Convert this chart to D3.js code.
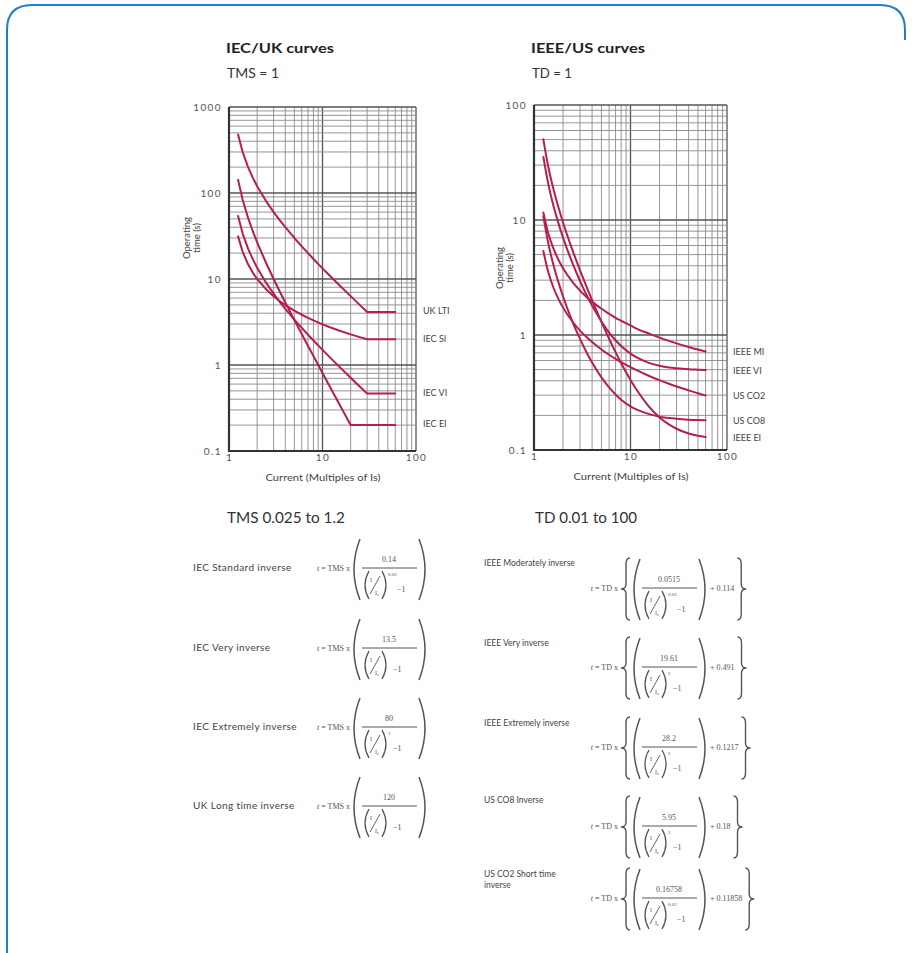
<!DOCTYPE html>
<html><head><meta charset="utf-8">
<script src="https://cdn.jsdelivr.net/npm/d3@7"></script>
<style>body{margin:0;background:#fff}svg{display:block}</style>
</head><body>
<svg id="c" width="912" height="953"></svg>
<script>
// ---------- DATA ----------
const currentMultiples = [1.25,1.4,1.6,1.8,2,2.5,3,3.5,4,5,6,7,8,10,12,15,20,25,30,40,50,60];

// IEC / UK curves (TMS = 1), operating time in s
const ukLTI = [480,300,200,150,120,80,60,48,40,30,24,20,17.1,13.3,10.9,8.57,6.32,5.0,4.14,4.14,4.14,4.14];
const iecSI = [31.3,20.7,14.8,11.8,10.0,7.57,6.30,5.52,4.98,4.28,3.84,3.53,3.30,2.97,2.75,2.52,2.27,2.11,1.99,1.99,1.99,1.99];
const iecVI = [54,33.75,22.5,16.9,13.5,9.0,6.75,5.4,4.5,3.375,2.7,2.25,1.93,1.5,1.227,0.964,0.711,0.5625,0.466,0.466,0.466,0.466];
const iecEI = [142.2,83.3,51.3,35.7,26.7,15.24,10.0,7.11,5.33,3.33,2.29,1.667,1.27,0.808,0.559,0.357,0.2005,0.2,0.2,0.2,0.2,0.2];
const iecNames = ["UK LTI","IEC SI","IEC VI","IEC EI"];

// IEEE / US curves (TD = 1)
const ieeeMI = [11.63,7.74,5.57,4.47,3.80,2.90,2.43,2.14,1.95,1.69,1.53,1.41,1.33,1.21,1.12,1.04,0.948,0.889,0.846,0.787,0.747,0.718];
const ieeeVI = [35.35,20.92,13.06,9.25,7.03,4.23,2.94,2.23,1.80,1.31,1.05,0.900,0.802,0.689,0.628,0.578,0.540,0.522,0.513,0.503,0.499,0.496];
const usCO2  = [5.37,3.56,2.55,2.04,1.73,1.31,1.09,0.960,0.868,0.749,0.673,0.620,0.581,0.525,0.487,0.447,0.405,0.377,0.357,0.330,0.311,0.298];
const usCO8  = [10.76,6.38,3.99,2.84,2.16,1.31,0.924,0.709,0.577,0.428,0.350,0.304,0.274,0.240,0.222,0.207,0.195,0.1895,0.1866,0.1837,0.1824,0.1817];
const ieeeEI = [50.26,29.50,18.20,12.71,9.52,5.49,3.65,2.63,2.00,1.30,0.927,0.709,0.569,0.407,0.319,0.247,0.192,0.167,0.153,0.139,0.133,0.1295];
const ieeeNames = ["IEEE MI","IEEE VI","US CO2","US CO8","IEEE EI"];

// tick labels
const xTickValues = [1,10,100];
const xTickLabels = ["1","10","100"];
const yTickValuesIEC = [0.1,1,10,100,1000];
const yTickLabelsIEC = ["0.1","1","10","100","1000"];
const yTickValuesIEEE = [0.1,1,10,100];
const yTickLabelsIEEE = ["0.1","1","10","100"];

// formulas
const iecFormulaNames = ["IEC Standard inverse","IEC Very inverse","IEC Extremely inverse","UK Long time inverse"];
const iecFormulaK = ["0.14","13.5","80","120"];
const iecFormulaExp = ["0.02","","2",""];
const ieeeFormulaNames = [["IEEE Moderately inverse"],["IEEE Very inverse"],["IEEE Extremely inverse"],["US CO8 Inverse"],["US CO2 Short time","inverse"]];
const ieeeFormulaA = ["0.0515","19.61","28.2","5.95","0.16758"];
const ieeeFormulaExp = ["0.02","2","2","2","0.02"];
const ieeeFormulaB = ["0.114","0.491","0.1217","0.18","0.11858"];

// ---------- DRAW ----------
const svg = d3.select('#c');
svg.append('rect').attr('width',912).attr('height',953).attr('fill','#fff');
svg.append('path')
  .attr('d','M7,975 L7,30 Q7,5 32,5 L880,5 Q905,5 905,30 L905,40')
  .attr('fill','none').attr('stroke','#1f7fc9').attr('stroke-width',2);

const SANS = 'Lato, "Open Sans", "DejaVu Sans", sans-serif';
const SERIF = '"Liberation Serif", "DejaVu Serif", serif';
const CURVE = '#b41f4f';

function txt(g, x, y, s, size, opts={}){
  const t = g.append('text').attr('x',x).attr('y',y).text(s)
    .attr('font-family', opts.family || SANS).attr('font-size', size)
    .attr('fill', opts.fill || '#333');
  if (opts.anchor) t.attr('text-anchor', opts.anchor);
  if (opts.weight) t.attr('font-weight', opts.weight);
  if (opts.len) t.attr('textLength', opts.len).attr('lengthAdjust','spacingAndGlyphs');
  if (opts.ls) t.attr('letter-spacing', opts.ls);
  if (opts.baseline) t.attr('dominant-baseline', opts.baseline);
  return t;
}

function chart(cfg){
  const x = d3.scaleLog().domain([1,100]).range(cfg.xr);
  const y = d3.scaleLog().domain(cfg.yd).range(cfg.yr);
  const g = svg.append('g');
  const xs = [], ys = [];
  for (let d=1; d<100; d*=10) for (let k=1;k<10;k++) xs.push(k*d);
  xs.push(100);
  for (let d=cfg.yd[0]; d<cfg.yd[1]*0.999; d*=10) for (let k=1;k<10;k++) ys.push(k*d);
  ys.push(cfg.yd[1]);
  const isDec = v => Math.abs(Math.log10(v) - Math.round(Math.log10(v))) < 1e-6;
  g.selectAll('.gx').data(xs).enter().append('line')
    .attr('x1',d=>x(d)).attr('x2',d=>x(d)).attr('y1',cfg.yr[1]).attr('y2',cfg.yr[0])
    .attr('stroke',d=>isDec(d)?'#555':'#8a8a8a').attr('stroke-width',d=>isDec(d)?1.3:0.9);
  g.selectAll('.gy').data(ys).enter().append('line')
    .attr('y1',d=>y(d)).attr('y2',d=>y(d)).attr('x1',cfg.xr[0]).attr('x2',cfg.xr[1])
    .attr('stroke',d=>isDec(d)?'#555':'#8a8a8a').attr('stroke-width',d=>isDec(d)?1.3:0.9);
  g.append('line').attr('x1',cfg.xr[0]).attr('x2',cfg.xr[0]).attr('y1',cfg.yr[1]).attr('y2',cfg.yr[0]+1)
    .attr('stroke','#333').attr('stroke-width',2.2);
  g.append('line').attr('x1',cfg.xr[0]-1).attr('x2',cfg.xr[1]).attr('y1',cfg.yr[0]).attr('y2',cfg.yr[0])
    .attr('stroke','#333').attr('stroke-width',2.2);
  const ya = g.append('g').attr('transform',`translate(${cfg.xr[0]},0)`)
    .call(d3.axisLeft(y).tickValues(cfg.yTicks).tickSize(0).tickPadding(7)
      .tickFormat((d,i)=>cfg.yLabels[i]));
  const xa = g.append('g').attr('transform',`translate(0,${cfg.yr[0]})`)
    .call(d3.axisBottom(x).tickValues(xTickValues).tickSize(0).tickPadding(3)
      .tickFormat((d,i)=>xTickLabels[i]));
  [ya,xa].forEach(a=>{
    a.select('.domain').remove();
    a.selectAll('text').attr('font-family',SANS).attr('font-size',10).attr('fill','#555').attr('letter-spacing',1.4);
  });
  const line = d3.line().x((d,i)=>x(currentMultiples[i])).y(d=>y(d)).curve(cfg.curve);
  cfg.series.forEach((s,i)=>{
    g.append('path').attr('d',line(s)).attr('fill','none').attr('stroke',CURVE)
      .attr('stroke-width',2).attr('stroke-linejoin','round').attr('stroke-linecap','round');
    txt(g, cfg.xr[1]+cfg.labelDx, y(s[s.length-1])+cfg.labelDy, cfg.names[i], 9, {fill:'#444', baseline:'middle'});
  });
  txt(g, cfg.xr[0]-3, 53, cfg.title, 14, {weight:'bold', fill:'#222', len:cfg.titleLen});
  txt(g, cfg.xr[0]-2, 78, cfg.sub, 12.5, {fill:'#333', len:cfg.subLen});
  const yl = g.append('text').attr('transform',`translate(${cfg.yLabelX},${cfg.yLabelY}) rotate(-90)`)
    .attr('font-family',SANS).attr('font-size',9.5).attr('fill','#444').attr('text-anchor','middle');
  yl.append('tspan').attr('x',0).attr('dy',0).text('Operating');
  yl.append('tspan').attr('x',0).attr('dy',9.5).text('time (s)');
  txt(g, (cfg.xr[0]+cfg.xr[1])/2 - 57, cfg.yr[0]+30, 'Current (Multiples of Is)', 9.5, {fill:'#444', len:115});
}

chart({xr:[229,416], yr:[451,107], yd:[0.1,1000], yTicks:yTickValuesIEC, yLabels:yTickLabelsIEC,
  series:[ukLTI,iecSI,iecVI,iecEI], names:iecNames, curve:d3.curveLinear, labelDx:7, labelDy:0,
  title:'IEC/UK curves', titleLen:108, sub:'TMS = 1', subLen:52, yLabelX:190, yLabelY:238});
chart({xr:[534,727], yr:[450,105], yd:[0.1,100], yTicks:yTickValuesIEEE, yLabels:yTickLabelsIEEE,
  series:[ieeeMI,ieeeVI,usCO2,usCO8,ieeeEI], names:ieeeNames, curve:d3.curveMonotoneX, labelDx:6, labelDy:1.5,
  title:'IEEE/US curves', titleLen:114, sub:'TD = 1', subLen:40, yLabelX:503, yLabelY:268});

// ---------- formulas ----------
txt(svg, 227, 523, 'TMS 0.025 to 1.2', 15, {fill:'#333', len:118});
txt(svg, 535, 523, 'TD 0.01 to 100', 15, {fill:'#333', len:102});

const FC = '#555';
function paren(g, x, y1, y2, bulge, w){
  g.append('path').attr('d',`M${x},${y1} Q${x-bulge},${(y1+y2)/2} ${x},${y2}`)
    .attr('fill','none').attr('stroke',FC).attr('stroke-width',w||1.5);
}
function brace(g, x, y1, y2, dir){
  const ym=(y1+y2)/2, a=x-dir*4, t=x-dir*9;
  g.append('path').attr('d',`M${x},${y1} Q${a},${y1} ${a},${y1+6} L${a},${ym-5} Q${a},${ym} ${t},${ym} Q${a},${ym} ${a},${ym+5} L${a},${y2-6} Q${a},${y2} ${x},${y2}`)
    .attr('fill','none').attr('stroke',FC).attr('stroke-width',1.4);
}
function fracBlock(g, x0, yc, num, exp){
  paren(g, x0+9, yc-29, yc+32, 12);
  g.append('line').attr('x1',x0+11).attr('x2',x0+66).attr('y1',yc).attr('y2',yc).attr('stroke',FC).attr('stroke-width',1);
  txt(g, x0+38, yc-6, num, 8, {family:SERIF, fill:FC, anchor:'middle'});
  paren(g, x0+18, yc+3, yc+31, 8, 1.3);
  txt(g, x0+19, yc+14, 'I', 6, {family:SERIF, fill:FC});
  g.append('line').attr('x1',x0+19).attr('y1',yc+26).attr('x2',x0+29).attr('y2',yc+8).attr('stroke',FC).attr('stroke-width',0.9);
  txt(g, x0+24, yc+27, 'I', 6, {family:SERIF, fill:FC});
  txt(g, x0+26, yc+28, 's', 4.5, {family:SERIF, fill:FC});
  paren(g, x0+31, yc+3, yc+31, -8, 1.3);
  if (exp) txt(g, x0+37, yc+8, exp, 5, {family:SERIF, fill:FC});
  txt(g, x0+(exp && exp.length>1 ? 46 : 42), yc+24, '−1', 8, {family:SERIF, fill:FC});
  paren(g, x0+68, yc-29, yc+32, -12);
}

const iecY = [568,648,727,806];
iecFormulaNames.forEach((n,i)=>{
  const yc = iecY[i];
  txt(svg, 193, yc+3, n, 10, {fill:'#444', ls:0.4});
  const pre = txt(svg, 350, yc+3, '', 8, {family:SERIF, fill:FC, anchor:'end'});
  pre.append('tspan').attr('font-style','italic').text('t');
  pre.append('tspan').text(' = TMS x');
  fracBlock(svg, 351, yc, iecFormulaK[i], iecFormulaExp[i]);
});

const ieeeLabelY = [566,646,726,803,877];
const ieeeY = [588,667,747,826,898];
ieeeFormulaNames.forEach((lines,i)=>{
  lines.forEach((l,j)=> txt(svg, 484, ieeeLabelY[i]+j*11, l, 8.5, {fill:'#444'}));
  const yc = ieeeY[i];
  const pre = txt(svg, 618, yc+3, '', 8, {family:SERIF, fill:FC, anchor:'end'});
  pre.append('tspan').attr('font-style','italic').text('t');
  pre.append('tspan').text(' = TD x');
  brace(svg, 630, yc-30, yc+32, 1);
  fracBlock(svg, 631, yc, ieeeFormulaA[i], ieeeFormulaExp[i]);
  const b = txt(svg, 710, yc+3, '+ ' + ieeeFormulaB[i], 8, {family:SERIF, fill:FC});
  const w = b.node().getComputedTextLength();
  brace(svg, 710+w+3, yc-30, yc+32, -1);
});
</script>
</body></html>
